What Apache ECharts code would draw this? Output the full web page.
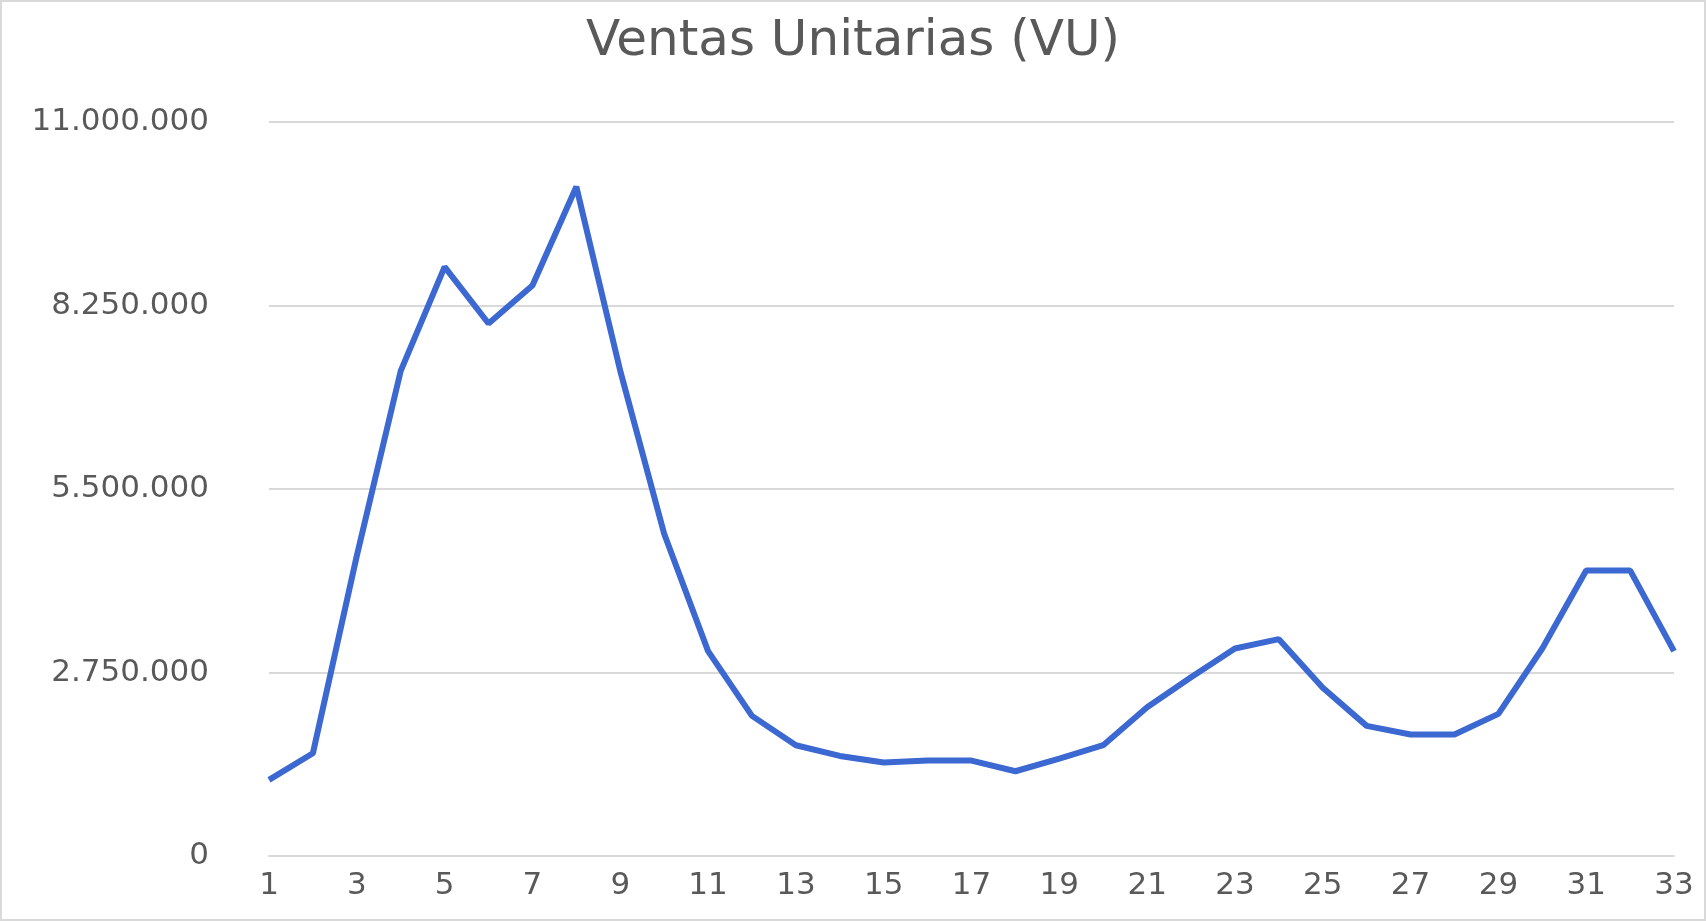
<!DOCTYPE html><html><head><meta charset="utf-8">
<script src="https://cdn.jsdelivr.net/npm/echarts@6/dist/echarts.min.js"></script>
<style>html,body{margin:0;padding:0;background:#fff}#c{width:1706px;height:921px;box-sizing:border-box;border:2px solid #d9d9d9}</style>
</head><body><div id="c"></div><script>
const categories = Array.from({length:33},(_, i)=>String(i+1));
const ventas = [1140000,1540000,4500000,7270000,8830000,7980000,8550000,10030000,7270000,4830000,3070000,2100000,1660000,1500000,1400000,1430000,1430000,1270000,1460000,1660000,2230000,2680000,3110000,3250000,2520000,1950000,1820000,1820000,2130000,3110000,4280000,4280000,3070000];
const yTicks = [0,2750000,5500000,8250000,11000000];
const fmt = v => String(v).replace(/\B(?=(\d{3})+(?!\d))/g,'.');
const chart = echarts.init(document.getElementById('c'));
chart.setOption({
  title:{text:'Ventas Unitarias (VU)',left:'center',top:10,textStyle:{fontFamily:'DejaVu Sans',fontSize:50,fontWeight:'normal',color:'#595959'}},
  grid:{left:267,right:30,top:120,bottom:63},
  xAxis:{type:'category',data:categories,boundaryGap:false,
    axisLine:{lineStyle:{color:'#d9d9d9',width:2}},axisTick:{show:false},
    axisLabel:{interval:1,fontFamily:'DejaVu Sans',fontSize:31,color:'#595959',margin:14}},
  yAxis:{type:'value',min:0,max:11000000,interval:2750000,
    axisLabel:{formatter:fmt,fontFamily:'DejaVu Sans',fontSize:31,color:'#595959',margin:60},
    splitLine:{lineStyle:{color:'#d9d9d9',width:2}}},
  series:[{type:'line',data:ventas,symbol:'none',lineStyle:{color:'#3c68d2',width:6}}]
});
</script></body></html>
